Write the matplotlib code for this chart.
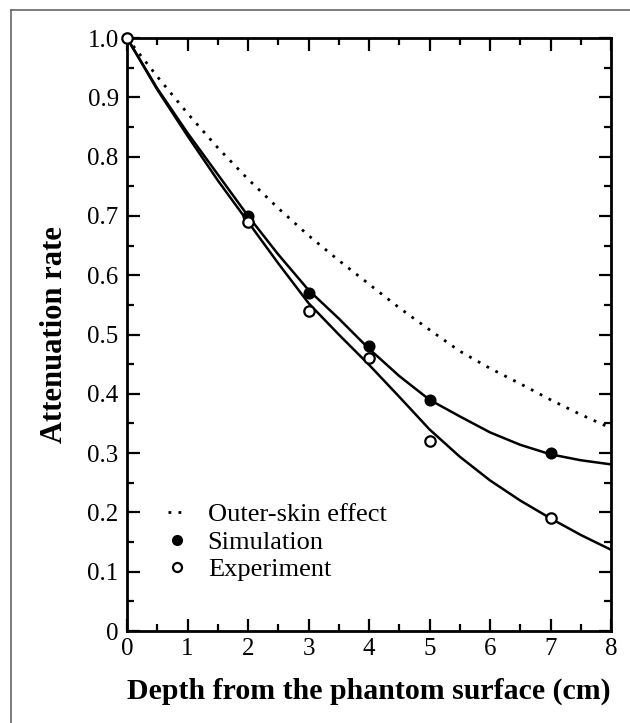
import numpy as np
import matplotlib
matplotlib.use("Agg")
import matplotlib.pyplot as plt
from matplotlib.lines import Line2D
from matplotlib.ticker import MultipleLocator, FixedLocator

plt.rcParams["font.family"] = ["Liberation Serif", "DejaVu Serif"]

# curve readings (every 0.5 cm)
depth_curve = [0, 0.5, 1, 1.5, 2, 2.5, 3, 3.5, 4, 4.5, 5, 5.5, 6, 6.5, 7, 7.5, 8]
outer_skin = [1.0, 0.935, 0.873, 0.815, 0.762, 0.713, 0.667, 0.625, 0.585,
              0.545, 0.508, 0.472, 0.443, 0.417, 0.39, 0.365, 0.342]
sim_fit = [1.0, 0.915, 0.84, 0.77, 0.70, 0.635, 0.575, 0.527, 0.476,
           0.43, 0.39, 0.362, 0.335, 0.314, 0.298, 0.288, 0.281]
exp_fit = [1.0, 0.913, 0.835, 0.76, 0.69, 0.62, 0.553, 0.50, 0.449,
           0.395, 0.34, 0.294, 0.254, 0.22, 0.19, 0.162, 0.137]

# measured points
sim_x = [2, 3, 4, 5, 7]
sim_y = [0.70, 0.57, 0.48, 0.39, 0.30]
exp_x = [0, 2, 3, 4, 5, 7]
exp_y = [1.0, 0.69, 0.54, 0.46, 0.32, 0.19]

xticks = [0, 1, 2, 3, 4, 5, 6, 7, 8]
yticks = [0, 0.1, 0.2, 0.3, 0.4, 0.5, 0.6, 0.7, 0.8, 0.9, 1.0]

fig = plt.figure(figsize=(6.3, 7.23), dpi=100)
ax = fig.add_axes([0.2016, 0.1272, 0.7683, 0.8202])

ax.plot(depth_curve, outer_skin, color="black", lw=2.0, linestyle=(0, (1, 2.6)))
ax.plot(depth_curve, sim_fit, color="black", lw=1.8)
ax.plot(depth_curve, exp_fit, color="black", lw=1.8)
ax.plot(sim_x, sim_y, "o", color="black", ms=7.5, mec="black", mew=1.2, zorder=5)
ax.plot(exp_x, exp_y, "o", mfc="white", mec="black", ms=7.5, mew=1.6, zorder=6,
        clip_on=False)

ax.set_xlim(0, 8)
ax.set_ylim(0, 1.0)
ax.xaxis.set_major_locator(FixedLocator(xticks))
ax.xaxis.set_minor_locator(MultipleLocator(0.5))
ax.yaxis.set_major_locator(FixedLocator(yticks))
ax.yaxis.set_minor_locator(MultipleLocator(0.05))
ax.set_yticklabels(["0"] + ["%.1f" % v for v in yticks[1:]])
ax.set_xticklabels([str(v) for v in xticks])

ax.tick_params(which="both", direction="in", top=True, right=True, width=1.6,
               labelsize=18)
ax.tick_params(which="major", length=9)
ax.tick_params(which="minor", length=5)
ax.tick_params(axis="y", pad=6)
ax.tick_params(axis="x", pad=5)
for s in ax.spines.values():
    s.set_linewidth(2.0)

ax.set_xlabel("Depth from the phantom surface (cm)", fontsize=21.5,
              fontweight="bold", labelpad=13)
ax.set_ylabel("Attenuation rate", fontsize=22, fontweight="bold", labelpad=13)

handles = [
    Line2D([], [], color="black", lw=2.0, linestyle=(0, (1, 2.6))),
    Line2D([], [], marker="o", color="black", ls="none", ms=7),
    Line2D([], [], marker="o", mfc="white", mec="black", mew=1.6, ls="none", ms=6.5),
]
ax.legend(handles, ["Outer-skin effect", "Simulation", "Experiment"],
          loc="lower left", bbox_to_anchor=(0.085, 0.084), frameon=False,
          borderpad=0, borderaxespad=0,
          fontsize=19, handlelength=0.7, handletextpad=0.8, labelspacing=0.15)

# outer frame of the picture
fig.add_artist(Line2D([11 / 630, 11 / 630], [0, 1 - 10 / 723],
                      transform=fig.transFigure, color="#666666", lw=1.2))
fig.add_artist(Line2D([11 / 630, 1], [1 - 10 / 723, 1 - 10 / 723],
                      transform=fig.transFigure, color="#666666", lw=1.2))

fig.savefig("out.png", dpi=100)
